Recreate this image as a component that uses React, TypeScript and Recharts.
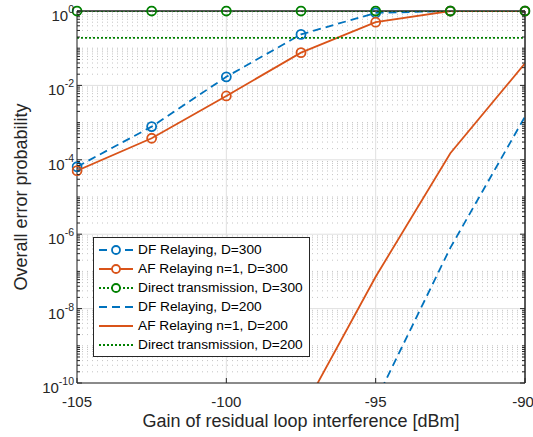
import { CartesianGrid, Legend, Line, LineChart, XAxis, YAxis } from "recharts"

const FONT = "'Liberation Sans', Arial, Helvetica, sans-serif"
const INK = "#262626"
const BLUE = "#0072BD"
const ORANGE = "#D95319"
const GREEN = "#008000"

// gain of residual loop interference [dBm]
const X = [-105, -102.5, -100, -97.5, -95, -92.5, -90]

// overall error probability
const DF300 = [6.5e-5, 7.8e-4, 1.7e-2, 0.235, 0.89, 1, 1]
const AF300 = [5.1e-5, 3.8e-4, 5.2e-3, 7.6e-2, 0.5, 1, 1]
const DIRECT300 = [1, 1, 1, 1, 1, 1, 1]
const DF200 = [null, null, null, null, 3.3e-11, 4.3e-7, 1.45e-3]
const AF200 = [null, null, null, 1.5e-11, 7.2e-8, 1.5e-4, 3.9e-2]
const DIRECT200 = [0.19, 0.19, 0.19, 0.19, 0.19, 0.19, 0.19]

const X_TICKS = [-105, -100, -95, -90]
const Y_MAJOR = [1e-10, 1e-8, 1e-6, 1e-4, 1e-2, 1]
const DECADES = [-10, -9, -8, -7, -6, -5, -4, -3, -2, -1]
const MANTISSAS = [2, 3, 4, 5, 6, 7, 8, 9, 10]

const isMajor = (v: number) => Y_MAJOR.some((t) => Math.abs(v - t) / t < 1e-9)

// minor ticks: everything on the log grid that is not a labelled decade
const Y_MINOR = DECADES.flatMap((e) => MANTISSAS.map((m) => m * Math.pow(10, e))).filter((v) => !isMajor(v))
const Y_ALL = [...Y_MAJOR, ...Y_MINOR].sort((a, b) => a - b)

const data = X.map((x, i) => ({
  x,
  df300: DF300[i],
  af300: AF300[i],
  direct300: DIRECT300[i],
  df200: DF200[i],
  af200: AF200[i],
  direct200: DIRECT200[i],
}))

const SERIES = [
  { key: "df300", name: "DF Relaying, D=300", color: BLUE, dash: "8 5", marker: true },
  { key: "af300", name: "AF Relaying n=1, D=300", color: ORANGE, dash: undefined, marker: true },
  { key: "direct300", name: "Direct transmission, D=300", color: GREEN, dash: "2 2", marker: true },
  { key: "df200", name: "DF Relaying, D=200", color: BLUE, dash: "8 5", marker: false },
  { key: "af200", name: "AF Relaying n=1, D=200", color: ORANGE, dash: undefined, marker: false },
  { key: "direct200", name: "Direct transmission, D=200", color: GREEN, dash: "2 2", marker: false },
]

// left axis: inward tick (long for decades shown, short for minor) + 10^n label
function LeftTick({ x, y, payload }: any) {
  const v = payload.value
  const major = isMajor(v)
  const ax = x + 3
  return (
    <g>
      <line x1={ax} x2={ax + (major ? 5 : 3)} y1={y} y2={y} stroke={INK} strokeWidth={1} />
      {major && (
        <text x={x} y={y + 10} textAnchor="end" fill={INK} fontSize={15} fontFamily={FONT}>
          10<tspan dy={-8} fontSize={10.5}>{Math.round(Math.log10(v))}</tspan>
        </text>
      )}
    </g>
  )
}

// right axis: inward tick only
function RightTick({ x, y, payload }: any) {
  const major = isMajor(payload.value)
  return <line x1={x} x2={x - (major ? 5 : 3)} y1={y} y2={y} stroke={INK} strokeWidth={1} />
}

function XLabel({ viewBox }: any) {
  const { x, y, width } = viewBox
  return (
    <text x={x + width / 2} y={y + 44} textAnchor="middle" fill={INK} fontSize={18} fontFamily={FONT}>
      Gain of residual loop interference [dBm]
    </text>
  )
}

function YLabel({ viewBox }: any) {
  const { x, y, height } = viewBox
  const cx = x + 27
  const cy = y + height / 2
  return (
    <text x={cx} y={cy} transform={`rotate(-90, ${cx}, ${cy})`} textAnchor="middle" fill={INK} fontSize={18} fontFamily={FONT}>
      Overall error probability
    </text>
  )
}

function LegendBox() {
  return (
    <div style={{ border: `1px solid ${INK}`, background: "#fff", padding: "2px 6px 2px 4px", fontFamily: FONT, fontSize: 13.7, color: "#000" }}>
      {SERIES.map((s) => (
        <div key={s.key} style={{ display: "flex", alignItems: "center", height: 19 }}>
          <svg width={36} height={12} style={{ flex: "none" }}>
            <line x1={1} x2={35} y1={6} y2={6} stroke={s.color} strokeWidth={1.8} strokeDasharray={s.dash} />
            {s.marker && <circle cx={18} cy={6} r={4} fill="#fff" stroke={s.color} strokeWidth={1.8} />}
          </svg>
          <span style={{ marginLeft: 4, whiteSpace: "nowrap" }}>{s.name}</span>
        </div>
      ))}
    </div>
  )
}

export default function App() {
  const xDomain: [number, number] = [-105, -90]
  const yDomain: [number, number] = [1e-10, 1]
  return (
    <div style={{ position: "absolute", left: 0, top: 0, background: "#fff" }}>
      <LineChart width={533} height={437} data={data} margin={{ top: 11, right: 8, bottom: 0, left: 0 }}>
        <CartesianGrid xAxisId="b" yAxisId="l" vertical={false} horizontalValues={Y_MINOR} stroke="#c4c4c4" strokeDasharray="1 4" />
        <CartesianGrid xAxisId="b" yAxisId="l" horizontalValues={Y_MAJOR} verticalValues={X_TICKS} stroke="#e0e0e0" />
        {/* box: top and right edges */}
        <CartesianGrid xAxisId="b" yAxisId="l" horizontalValues={[1]} verticalValues={[-90]} stroke={INK} />

        <XAxis
          xAxisId="b" dataKey="x" type="number" domain={xDomain} allowDataOverflow ticks={X_TICKS}
          height={54} stroke={INK} tickSize={-5} tickMargin={18}
          tick={{ fill: INK, fontSize: 15, fontFamily: FONT }}
          label={<XLabel />}
        />
        <XAxis
          xAxisId="t" dataKey="x" type="number" domain={xDomain} allowDataOverflow ticks={X_TICKS}
          orientation="top" mirror stroke={INK} tickSize={5} tick={false}
        />
        <YAxis
          yAxisId="l" type="number" scale="log" domain={yDomain} allowDataOverflow ticks={Y_ALL} interval={0}
          width={77} stroke={INK} tickSize={0} tickMargin={3} tickLine={false} tick={<LeftTick />}
          label={<YLabel />}
        />
        <YAxis
          yAxisId="r" type="number" scale="log" domain={yDomain} allowDataOverflow ticks={Y_ALL} interval={0}
          orientation="right" mirror stroke={INK} tickSize={0} tickMargin={0} tickLine={false} tick={<RightTick />}
        />

        {SERIES.map((s) => (
          <Line
            key={s.key} xAxisId="b" yAxisId="l" type="linear" dataKey={s.key} name={s.name}
            stroke={s.color} strokeWidth={1.8} strokeDasharray={s.dash}
            dot={s.marker ? { r: 4.5, fill: "none", stroke: s.color, strokeWidth: 1.8, strokeDasharray: "none", clipDot: false } : false}
            activeDot={false} isAnimationActive={false}
          />
        ))}
        {/* binds the top and right frame axes to the data so they get drawn */}
        <Line xAxisId="t" yAxisId="r" dataKey="direct200" stroke="none" dot={false} activeDot={false} legendType="none" isAnimationActive={false} />

        <Legend
          layout="vertical" align="center" verticalAlign="middle" content={<LegendBox />}
          wrapperStyle={{ left: 93, top: 237, width: "auto" }}
        />
      </LineChart>
    </div>
  )
}
